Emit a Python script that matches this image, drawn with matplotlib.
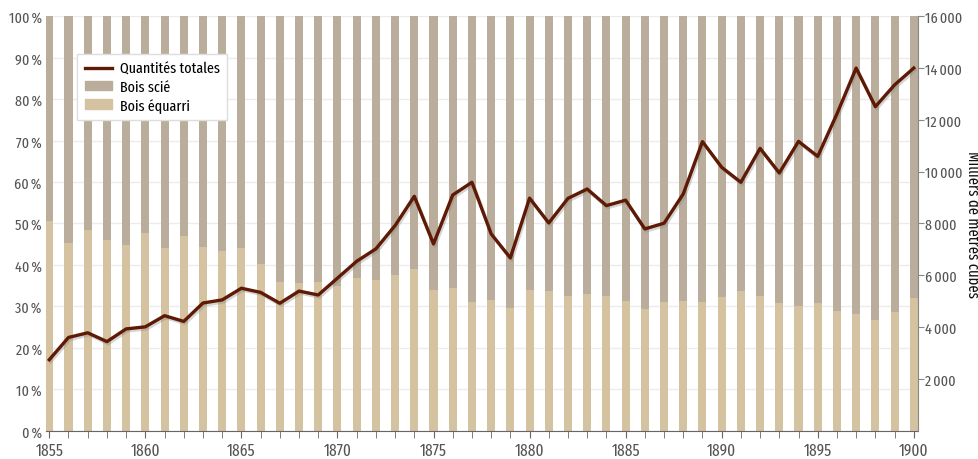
import numpy as np
import matplotlib.pyplot as plt
import matplotlib.patheffects as pe
from matplotlib.lines import Line2D
from matplotlib.patches import Patch

plt.rcParams['font.family'] = ['Fira Sans Extra Condensed', 'Fira Sans Condensed',
                               'Archivo Narrow', 'Liberation Sans', 'DejaVu Sans']

years = list(range(1855, 1901))

# part du bois équarri (%), le reste est du bois scié
equarri = [50.6, 45.3, 48.4, 46.0, 44.8, 47.7, 44.1, 46.9, 44.3, 43.3,
           44.1, 40.2, 35.8, 35.6, 36.0, 34.8, 36.8, 36.4, 37.6, 38.9,
           33.9, 34.5, 31.1, 31.5, 29.7, 34.0, 33.6, 32.5, 33.1, 32.4,
           31.2, 29.4, 31.1, 31.3, 31.0, 32.2, 33.8, 32.5, 30.7, 30.1,
           30.7, 28.8, 28.2, 26.7, 28.6, 31.9]

# quantités totales (milliers de m3)
totales = [2740, 3600, 3780, 3440, 3930, 4010, 4440, 4220, 4930, 5050,
           5500, 5340, 4920, 5390, 5240, 5890, 6540, 7020, 7920, 9050,
           7210, 9100, 9590, 7600, 6670, 8980, 8020, 8970, 9330, 8690,
           8900, 7790, 8010, 9140, 11160, 10170, 9590, 10900, 9950, 11170,
           10590, 12230, 14000, 12510, 13350, 14000]

scie = [100 - v for v in equarri]

c_scie = '#bbad9b'
c_equarri = '#d5c2a1'
c_line = '#5e1a05'
c_text = '#555555'

fig = plt.figure(figsize=(9.79, 4.6), dpi=100)
ax = fig.add_axes([0.047, 0.0615, 0.8907, 0.901])

ax.bar(years, equarri, width=0.42, color=c_equarri, zorder=2)
ax.bar(years, scie, width=0.42, bottom=equarri, color=c_scie, zorder=2)

ax.set_xlim(1854.83, 1900.22)
ax.set_ylim(0, 100)
ax.set_yticks(range(0, 101, 10))
ax.set_yticklabels([f'{v}\u2009%' for v in range(0, 101, 10)])
ax.set_xticks(years, minor=True)
ax.set_xticks(range(1855, 1901, 5))
ax.yaxis.grid(True, color='#ececec', linewidth=1, zorder=0)
ax.set_axisbelow(True)

for s in ['top', 'left', 'right']:
    ax.spines[s].set_visible(False)
ax.spines['bottom'].set_color('#666666')
ax.tick_params(axis='y', length=0, labelsize=11, colors=c_text, pad=3)
ax.tick_params(axis='x', which='both', length=5, color='#666666',
               labelsize=12, labelcolor=c_text, direction='out', pad=3)

ax2 = ax.twinx()
ax2.plot(years, totales, color=c_line, lw=2.4, zorder=5,
         path_effects=[pe.SimpleLineShadow(offset=(1, -1.5), shadow_color='#888888', alpha=0.35),
                       pe.Normal()])
ax2.set_ylim(0, 16000)
ax2.set_yticks(range(2000, 16001, 2000))
ax2.set_yticklabels([f'{v // 1000}\u2009000' for v in range(2000, 16001, 2000)])
for s in ['top', 'left', 'bottom']:
    ax2.spines[s].set_visible(False)
ax2.spines['right'].set_color('#888888')
ax2.tick_params(axis='y', length=4, color='#888888', labelsize=11,
                labelcolor=c_text, pad=1)
ax2.set_ylabel('Milliers de mètres cubes', rotation=270, labelpad=13,
               fontsize=11.5, color='#111111')

handles = [Line2D([], [], color=c_line, lw=2.4),
           Patch(color=c_scie), Patch(color=c_equarri)]
leg = ax2.legend(handles, ['Quantités totales', 'Bois scié', 'Bois équarri'],
                 loc='upper left', bbox_to_anchor=(0.0356, 0.909),
                 borderaxespad=0, fancybox=False, framealpha=1,
                 fontsize=11, handlelength=1.8, handleheight=0.6,
                 labelspacing=0.25, borderpad=0.5, handletextpad=0.5)
leg.get_frame().set_edgecolor('#dddddd')

fig.savefig('out.png', dpi=100)
